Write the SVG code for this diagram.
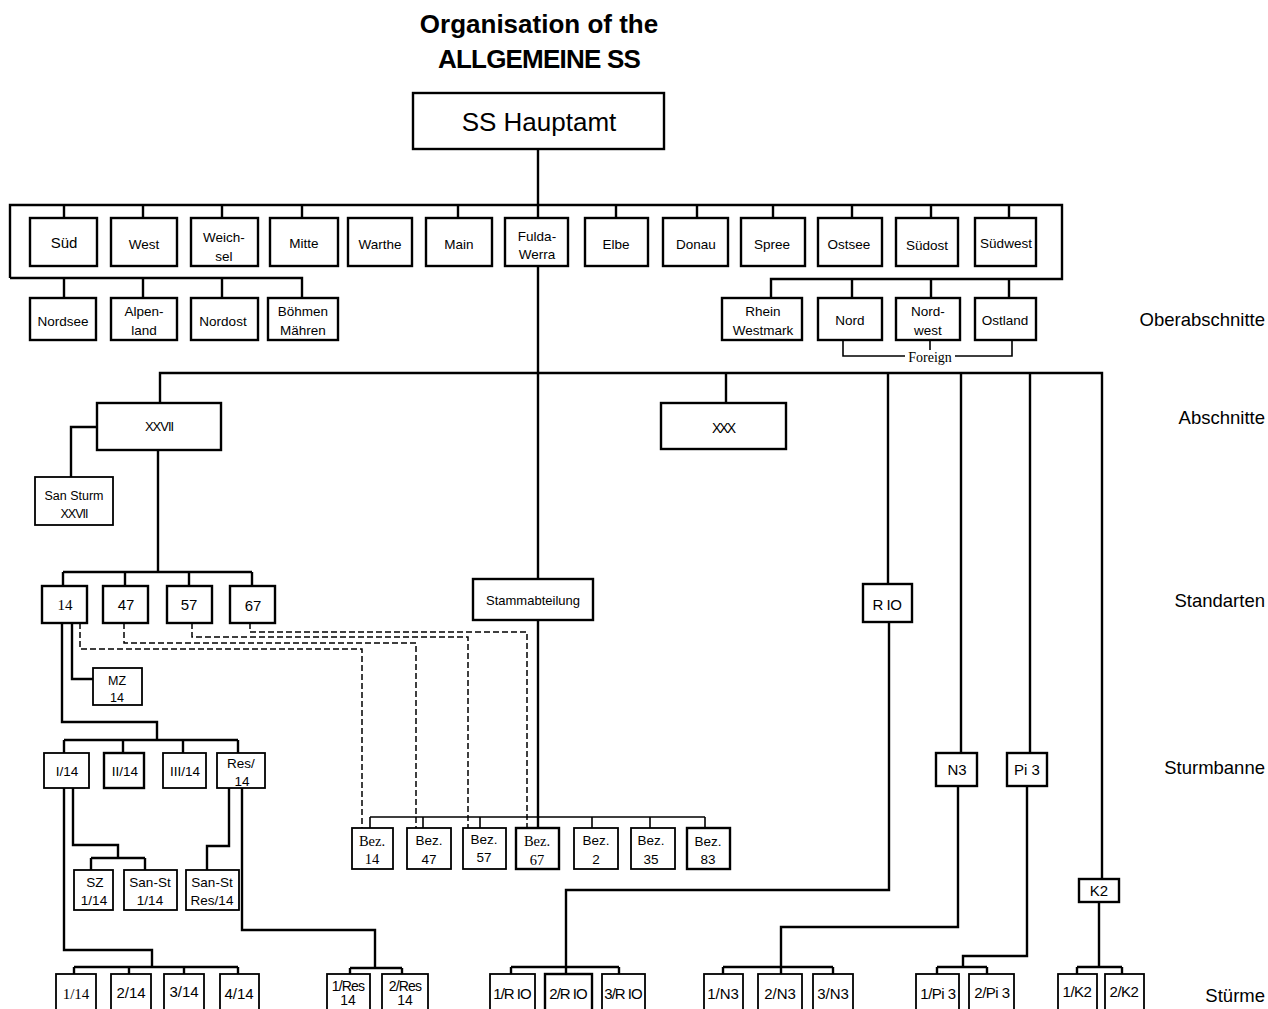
<svg xmlns="http://www.w3.org/2000/svg" width="1268" height="1009" viewBox="0 0 1268 1009">
<style>
.bg{fill:#fff}
rect.b{fill:#fff;stroke:#000;stroke-width:2.4}
rect.n{fill:#fff;stroke:#000;stroke-width:1.8}
.c path{fill:none;stroke:#000;stroke-width:2.4}
.c path.f{stroke-width:1.6}
.c path.d{stroke-width:1.5;stroke-dasharray:6 3}
text{font-family:"Liberation Sans",Arial,sans-serif;fill:#000;text-anchor:middle}
text.m{font-size:13.5px}
text.s{font-family:"Liberation Serif","Times New Roman",serif}
text.l{font-size:18.5px;text-anchor:end}
text.h{font-size:26px;font-weight:bold}
</style>
<rect class="bg" x="0" y="0" width="1268" height="1009"/>
<g id="title">
<text class="h" x="539" y="33">Organisation of the</text>
<text class="h" x="539" y="68" letter-spacing="-0.8">ALLGEMEINE SS</text>
</g>
<g id="levels">
<text class="l" x="1265" y="326">Oberabschnitte</text>
<text class="l" x="1265" y="424">Abschnitte</text>
<text class="l" x="1265" y="607">Standarten</text>
<text class="l" x="1265" y="774">Sturmbanne</text>
<text class="l" x="1265" y="1002">Stürme</text>
</g>
<g id="connectors" class="c">
<path d="M538,149 V579 M538,620 V828"/>
<path d="M10,278 V205 H1062 V279 H771 V298"/>
<path d="M10,278 H302 V298 M64,278 V298 M143,278 V298 M222,278 V298"/>
<path d="M64,205 V218 M143,205 V218 M222,205 V218 M302,205 V218 M458,205 V218 M616,205 V218 M697,205 V218 M773,205 V218 M852,205 V218 M931,205 V218 M1009,205 V218"/>
<path d="M852,279 V298 M931,279 V298 M1009,279 V298"/>
<path class="f" d="M843,340 V356 H905 M955,356 H1012 V340 M930,340 V350"/>
<path d="M160,403 V373 H1102 V879 M726,373 V403 M888,373 V584 M961,373 V753 M1030,373 V753"/>
<path d="M97,427 H71 V477"/>
<path d="M158,450 V572 M63,572 H252 M63,572 V586 M125,572 V586 M189,572 V586 M252,572 V586"/>
<path class="d" d="M80,623 V649 H362 V828"/>
<path class="d" d="M124,623 V643 H416 V828"/>
<path class="d" d="M192,623 V637 H468 V828"/>
<path class="d" d="M250,623 V632 H527 V828"/>
<path class="f" d="M370,817 H705 M370,817 V828 M423,817 V828 M480,817 V828 M592,817 V828 M650,817 V828 M705,817 V828"/>
<path d="M72,623 V679 H93"/>
<path d="M62,623 V722 H157 V740 M64,740 H238 M64,740 V753 M123,740 V753 M183,740 V753 M238,740 V753"/>
<path d="M64,788 V950 H152 V967 M74,967 H238 M74,967 V974 M129,967 V974 M184,967 V974 M238,967 V974"/>
<path d="M73,788 V845 H118 V858 M91,858 H145 M91,858 V870 M145,858 V870"/>
<path d="M229,788 V846 H207 V870"/>
<path d="M242,788 V930 H375 V968 M350,968 H402 M350,968 V974 M402,968 V974"/>
<path d="M889,622 V890 H566 V974 M511,967 H619 M511,967 V974 M619,967 V974"/>
<path d="M958,786 V927 H781 V974 M723,967 H833 M723,967 V974 M833,967 V974"/>
<path d="M1027,786 V956 H963 V967 M937,967 H987 M937,967 V974 M987,967 V974"/>
<path d="M1099,902 V967 M1077,967 H1122 M1077,967 V974 M1122,967 V974"/>
</g>
<g id="hauptamt"><rect class="b" x="413" y="93" width="251" height="56"/><text x="539" y="131" font-size="26">SS Hauptamt</text></g>
<g id="sued"><rect class="b" x="30" y="218" width="67" height="48"/><text x="64" y="248" font-size="15">Süd</text></g>
<g id="west"><rect class="b" x="111" y="218" width="66" height="48"/><text class="m" x="144" y="249">West</text></g>
<g id="weichsel"><rect class="b" x="191" y="218" width="67" height="48"/><text class="m" x="224" y="242">Weich-</text><text class="m" x="224" y="261">sel</text></g>
<g id="mitte"><rect class="b" x="270" y="218" width="68" height="48"/><text class="m" x="304" y="248">Mitte</text></g>
<g id="warthe"><rect class="b" x="348" y="218" width="64" height="48"/><text class="m" x="380" y="249">Warthe</text></g>
<g id="main"><rect class="b" x="426" y="218" width="66" height="48"/><text class="m" x="459" y="249">Main</text></g>
<g id="fulda"><rect class="b" x="505" y="218" width="63" height="48"/><text class="m" x="537" y="241">Fulda-</text><text class="m" x="537" y="259">Werra</text></g>
<g id="elbe"><rect class="b" x="585" y="218" width="63" height="48"/><text class="m" x="616" y="249">Elbe</text></g>
<g id="donau"><rect class="b" x="663" y="218" width="65" height="48"/><text class="m" x="696" y="249">Donau</text></g>
<g id="spree"><rect class="b" x="741" y="218" width="64" height="48"/><text class="m" x="772" y="249">Spree</text></g>
<g id="ostsee"><rect class="b" x="818" y="218" width="64" height="48"/><text class="m" x="849" y="249">Ostsee</text></g>
<g id="suedost"><rect class="b" x="896" y="218" width="62" height="48"/><text class="m" x="927" y="250">Südost</text></g>
<g id="suedwest"><rect class="b" x="975" y="218" width="61" height="48"/><text class="m" x="1006" y="248">Südwest</text></g>
<g id="nordsee"><rect class="b" x="30" y="298" width="66" height="42"/><text class="m" x="63" y="326">Nordsee</text></g>
<g id="alpenland"><rect class="b" x="111" y="298" width="66" height="42"/><text class="m" x="144" y="316">Alpen-</text><text class="m" x="144" y="335">land</text></g>
<g id="nordost"><rect class="b" x="191" y="298" width="67" height="42"/><text class="m" x="223" y="326">Nordost</text></g>
<g id="boehmen"><rect class="b" x="268" y="298" width="70" height="42"/><text class="m" x="303" y="316">Böhmen</text><text class="m" x="303" y="335">Mähren</text></g>
<g id="rhein"><rect class="b" x="722" y="298" width="80" height="42"/><text class="m" x="763" y="316">Rhein</text><text class="m" x="763" y="335">Westmark</text></g>
<g id="nord"><rect class="b" x="818" y="298" width="64" height="42"/><text class="m" x="850" y="325">Nord</text></g>
<g id="nordwest"><rect class="b" x="896" y="298" width="64" height="42"/><text class="m" x="928" y="316">Nord-</text><text class="m" x="928" y="335">west</text></g>
<g id="ostland"><rect class="b" x="975" y="298" width="61" height="42"/><text class="m" x="1005" y="325">Ostland</text></g>
<g id="foreign"><text class="s" x="930" y="362" font-size="14">Foreign</text></g>
<g id="xxvii"><rect class="b" x="97" y="403" width="124" height="47"/><text x="159" y="431" font-size="13" letter-spacing="-1">XXVII</text></g>
<g id="xxx"><rect class="b" x="661" y="403" width="125" height="46"/><text x="723" y="433" font-size="14" letter-spacing="-2">XXX</text></g>
<g id="sansturm"><rect class="n" x="35" y="477" width="78" height="48"/><text x="74" y="500" font-size="12.5">San  Sturm</text><text x="74" y="518" font-size="12.5" letter-spacing="-1">XXVII</text></g>
<g id="st14"><rect class="b" x="42" y="586" width="45" height="37"/><text class="s" x="65" y="610" font-size="15">14</text></g>
<g id="st47"><rect class="b" x="103" y="586" width="45" height="37"/><text x="126" y="610" font-size="15">47</text></g>
<g id="st57"><rect class="b" x="167" y="586" width="45" height="37"/><text x="189" y="610" font-size="15">57</text></g>
<g id="st67"><rect class="b" x="230" y="586" width="45" height="37"/><text x="253" y="611" font-size="15">67</text></g>
<g id="stamm"><rect class="b" x="473" y="579" width="120" height="41"/><text x="533" y="605" font-size="13">Stammabteilung</text></g>
<g id="rio"><rect class="b" x="863" y="584" width="49" height="38"/><text x="887" y="610" font-size="15" letter-spacing="-0.5">R IO</text></g>
<g id="mz14"><rect class="n" x="93" y="668" width="49" height="37"/><text x="117" y="685" font-size="12.5">MZ</text><text x="117" y="702" font-size="12.5">14</text></g>
<g id="sb1"><rect class="n" x="44" y="753" width="45" height="35"/><text x="67" y="776" font-size="13.5">I/14</text></g>
<g id="sb2"><rect class="b" x="104" y="753" width="40" height="35"/><text x="125" y="776" font-size="13.5">II/14</text></g>
<g id="sb3"><rect class="n" x="163" y="753" width="43" height="35"/><text x="185" y="776" font-size="13.5">III/14</text></g>
<g id="sbres"><rect class="n" x="217" y="753" width="48" height="35"/><text x="241" y="768" font-size="13.5">Res/</text><text x="242" y="786" font-size="13.5">14</text></g>
<g id="n3"><rect class="b" x="936" y="753" width="41" height="33"/><text x="957" y="775" font-size="15">N3</text></g>
<g id="pi3"><rect class="b" x="1007" y="753" width="40" height="33"/><text x="1027" y="775" font-size="15">Pi 3</text></g>
<g id="bez14"><rect class="n" x="352" y="828" width="41" height="41"/><text class="s" x="372" y="846" font-size="14.5">Bez.</text><text class="s" x="372" y="864" font-size="14.5">14</text></g>
<g id="bez47"><rect class="n" x="407" y="828" width="44" height="41"/><text class="m" x="429" y="845">Bez.</text><text class="m" x="429" y="864">47</text></g>
<g id="bez57"><rect class="n" x="463" y="828" width="43" height="41"/><text class="m" x="484" y="844">Bez.</text><text class="m" x="484" y="862">57</text></g>
<g id="bez67"><rect class="b" x="516" y="828" width="43" height="41"/><text class="s" x="537" y="846" font-size="14.5">Bez.</text><text class="s" x="537" y="865" font-size="14.5">67</text></g>
<g id="bez2"><rect class="n" x="574" y="828" width="44" height="41"/><text class="m" x="596" y="845">Bez.</text><text class="m" x="596" y="864">2</text></g>
<g id="bez35"><rect class="n" x="631" y="828" width="44" height="41"/><text class="m" x="651" y="845">Bez.</text><text class="m" x="651" y="864">35</text></g>
<g id="bez83"><rect class="b" x="687" y="828" width="43" height="41"/><text class="m" x="708" y="846">Bez.</text><text class="m" x="708" y="864">83</text></g>
<g id="sz"><rect class="n" x="74" y="870" width="39" height="40"/><text x="95" y="887" font-size="13.5">SZ</text><text x="94" y="905" font-size="13.5">1/14</text></g>
<g id="sanst"><rect class="n" x="124" y="870" width="53" height="40"/><text x="150" y="887" font-size="13.5">San-St</text><text x="150" y="905" font-size="13.5">1/14</text></g>
<g id="sanstres"><rect class="n" x="186" y="870" width="53" height="40"/><text x="212" y="887" font-size="13.5">San-St</text><text x="212" y="905" font-size="13.5">Res/14</text></g>
<g id="k2"><rect class="b" x="1079" y="879" width="40" height="23"/><text x="1099" y="896" font-size="15">K2</text></g>
<g id="s1_14"><rect class="n" x="56" y="974" width="40" height="40"/><text class="s" x="76" y="999" font-size="15">1/14</text></g>
<g id="s2_14"><rect class="n" x="111" y="974" width="40" height="40"/><text x="131" y="998" font-size="15">2/14</text></g>
<g id="s3_14"><rect class="n" x="164" y="974" width="40" height="40"/><text x="184" y="997" font-size="15">3/14</text></g>
<g id="s4_14"><rect class="n" x="220" y="974" width="39" height="40"/><text x="239" y="999" font-size="15">4/14</text></g>
<g id="s1res"><rect class="n" x="327" y="974" width="43" height="40"/><text x="348" y="991" font-size="14" letter-spacing="-0.8">1/Res</text><text x="348" y="1005" font-size="14">14</text></g>
<g id="s2res"><rect class="n" x="382" y="974" width="46" height="40"/><text x="405" y="991" font-size="14" letter-spacing="-0.8">2/Res</text><text x="405" y="1005" font-size="14">14</text></g>
<g id="s1rio"><rect class="n" x="490" y="974" width="45" height="40"/><text x="512" y="999" font-size="15" letter-spacing="-1">1/R IO</text></g>
<g id="s2rio"><rect class="b" x="545" y="974" width="47" height="40"/><text x="568" y="999" font-size="15" letter-spacing="-1">2/R IO</text></g>
<g id="s3rio"><rect class="n" x="602" y="974" width="43" height="40"/><text x="623" y="999" font-size="15" letter-spacing="-1">3/R IO</text></g>
<g id="s1n3"><rect class="n" x="704" y="974" width="39" height="40"/><text x="723" y="999" font-size="15">1/N3</text></g>
<g id="s2n3"><rect class="n" x="758" y="974" width="44" height="40"/><text x="780" y="999" font-size="15">2/N3</text></g>
<g id="s3n3"><rect class="n" x="813" y="974" width="40" height="40"/><text x="833" y="999" font-size="15">3/N3</text></g>
<g id="s1pi3"><rect class="n" x="916" y="974" width="43" height="40"/><text x="938" y="999" font-size="15" letter-spacing="-0.5">1/Pi 3</text></g>
<g id="s2pi3"><rect class="n" x="969" y="974" width="45" height="40"/><text x="992" y="998" font-size="15" letter-spacing="-0.5">2/Pi 3</text></g>
<g id="s1k2"><rect class="n" x="1058" y="974" width="39" height="40"/><text x="1077" y="997" font-size="15" letter-spacing="-0.5">1/K2</text></g>
<g id="s2k2"><rect class="n" x="1105" y="974" width="39" height="40"/><text x="1124" y="997" font-size="15" letter-spacing="-0.5">2/K2</text></g>
</svg>
